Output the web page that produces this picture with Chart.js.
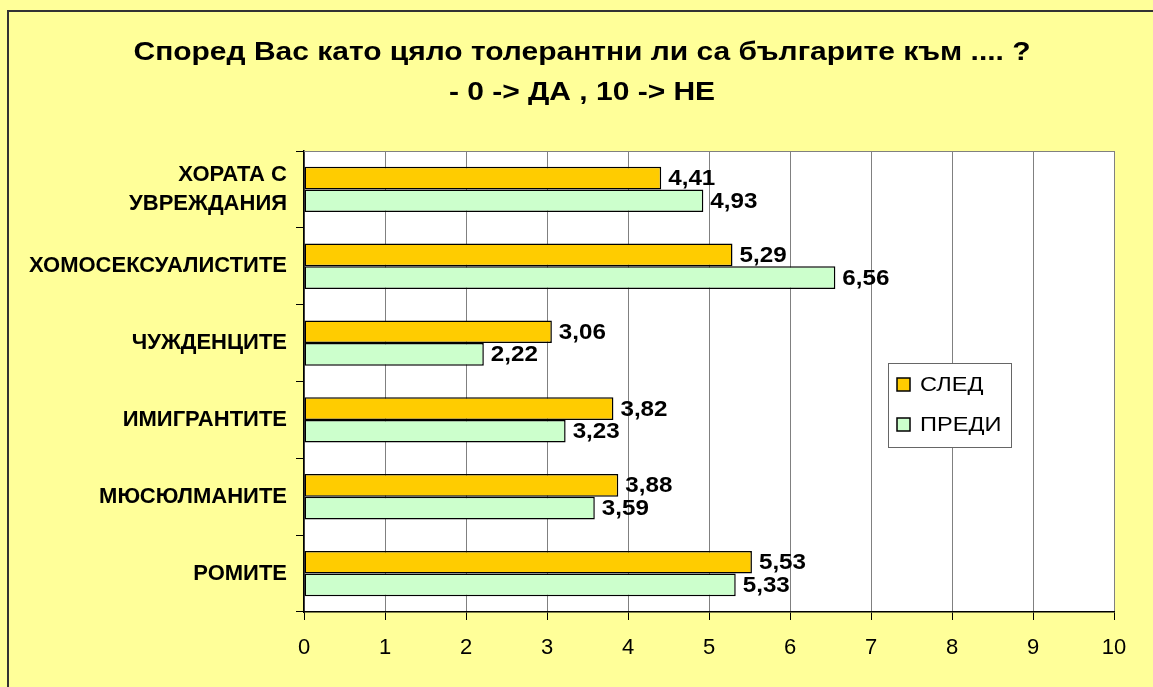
<!DOCTYPE html>
<html>
<head>
<meta charset="utf-8">
<script src="https://cdn.jsdelivr.net/npm/chart.js@4/dist/chart.umd.min.js"></script>
<style>
  html, body { margin: 0; padding: 0; background: #FFFF99; }
  #wrap { width: 1153px; height: 687px; }
</style>
</head>
<body>
<div id="wrap"><canvas id="chart" width="1153" height="687"></canvas></div>
<script>
// categories, top to bottom
const categories = [
  ['ХОРАТА С', 'УВРЕЖДАНИЯ'],
  'ХОМОСЕКСУАЛИСТИТЕ',
  'ЧУЖДЕНЦИТЕ',
  'ИМИГРАНТИТЕ',
  'МЮСЮЛМАНИТЕ',
  'РОМИТЕ'
];
const afterValues = [4.41, 5.29, 3.06, 3.82, 3.88, 5.53];   // СЛЕД
const beforeValues = [4.93, 6.56, 2.22, 3.23, 3.59, 5.33];  // ПРЕДИ
const xTicks = [0, 1, 2, 3, 4, 5, 6, 7, 8, 9, 10];
const titleLines = ['Според Вас като цяло толерантни ли са българите към .... ?', '- 0 -> ДА , 10 -> НЕ'];

const FONT = 'Arial, "Liberation Sans", sans-serif';

// text stretched sideways, like the original's wide rendering
function wideText(ctx, text, x, y, sx) {
  ctx.save();
  ctx.translate(x, y);
  ctx.scale(sx, 1);
  ctx.fillText(text, 0, 0);
  ctx.restore();
}

// background, frame, white plot area
const backdrop = {
  id: 'backdrop',
  beforeDraw(chart) {
    const { ctx, chartArea: a } = chart;
    ctx.save();
    ctx.fillStyle = '#FFFF99';
    ctx.fillRect(0, 0, chart.width, chart.height);
    ctx.strokeStyle = '#333';
    ctx.lineWidth = 2;
    ctx.strokeRect(8, 11, chart.width + 10, chart.height + 10);
    ctx.fillStyle = '#fff';
    ctx.fillRect(a.left, a.top, a.right - a.left, a.bottom - a.top);
    ctx.restore();
  },
  afterDraw(chart) {
    const { ctx, chartArea: a } = chart;
    ctx.save();
    // top edge of plot
    ctx.strokeStyle = '#808080';
    ctx.lineWidth = 1;
    ctx.beginPath();
    ctx.moveTo(a.left, a.top + 0.5);
    ctx.lineTo(a.right, a.top + 0.5);
    ctx.stroke();
    // title
    ctx.fillStyle = '#000';
    ctx.font = 'bold 26px ' + FONT;
    ctx.textAlign = 'center';
    ctx.textBaseline = 'middle';
    const sx = 897 / ctx.measureText(titleLines[0]).width;
    wideText(ctx, titleLines[0], 582, 53, sx);
    wideText(ctx, titleLines[1], 582, 93, sx);
    // legend box
    const lx = 888, ly = 363, lw = 123, lh = 84;
    ctx.fillStyle = '#fff';
    ctx.fillRect(lx, ly, lw, lh);
    ctx.strokeStyle = '#666';
    ctx.strokeRect(lx + 0.5, ly + 0.5, lw, lh);
    ctx.font = '20px ' + FONT;
    ctx.textAlign = 'left';
    chart.data.datasets.forEach((ds, i) => {
      const cy = ly + 21 + i * 40;
      ctx.fillStyle = ds.backgroundColor;
      ctx.fillRect(lx + 9, cy - 6, 13, 13);
      ctx.strokeStyle = '#000';
      ctx.lineWidth = 1.5;
      ctx.strokeRect(lx + 9, cy - 6, 13, 13);
      ctx.fillStyle = '#000';
      wideText(ctx, ds.label, lx + 32, cy + 1, 1.18);
    });
    ctx.restore();
  }
};

// value labels at bar ends
const valueLabels = {
  id: 'valueLabels',
  afterDatasetsDraw(chart) {
    const { ctx } = chart;
    ctx.save();
    ctx.font = 'bold 22px ' + FONT;
    ctx.fillStyle = '#000';
    ctx.textAlign = 'left';
    ctx.textBaseline = 'middle';
    chart.data.datasets.forEach((ds, i) => {
      chart.getDatasetMeta(i).data.forEach((bar, j) => {
        wideText(ctx, ds.data[j].toFixed(2).replace('.', ','), bar.x + 7, bar.y + 1, 1.1);
      });
    });
    ctx.restore();
  }
};

new Chart(document.getElementById('chart'), {
  type: 'bar',
  data: {
    labels: categories,
    datasets: [
      { label: 'СЛЕД', data: afterValues, backgroundColor: '#FFCC00', borderColor: '#000', borderWidth: 1.5, borderSkipped: false },
      { label: 'ПРЕДИ', data: beforeValues, backgroundColor: '#CCFFCC', borderColor: '#000', borderWidth: 1.5, borderSkipped: false }
    ]
  },
  options: {
    indexAxis: 'y',
    responsive: false,
    animation: false,
    layout: { padding: { top: 151, right: 39, left: 0, bottom: 0 } },
    datasets: { bar: { categoryPercentage: 0.59, barPercentage: 1 } },
    plugins: { legend: { display: false }, tooltip: { enabled: false } },
    scales: {
      x: {
        min: 0, max: 10,
        afterBuildTicks(scale) { scale.ticks = xTicks.map(v => ({ value: v })); },
        afterFit(scale) { scale.height = 75; },
        grid: { color: '#808080', tickColor: '#000', tickLength: 8 },
        border: { color: '#000', width: 1.5 },
        ticks: { color: '#000', padding: 15, font: { family: FONT, size: 22 } }
      },
      y: {
        afterFit(scale) { scale.width = 304; },
        grid: { drawOnChartArea: false, offset: true, tickColor: '#000', tickLength: 8 },
        border: { color: '#000', width: 1.5 },
        ticks: { color: '#000', padding: 9, font: { family: FONT, size: 22, weight: 'bold', lineHeight: 1.35 } }
      }
    }
  },
  plugins: [backdrop, valueLabels]
});
</script>
</body>
</html>
